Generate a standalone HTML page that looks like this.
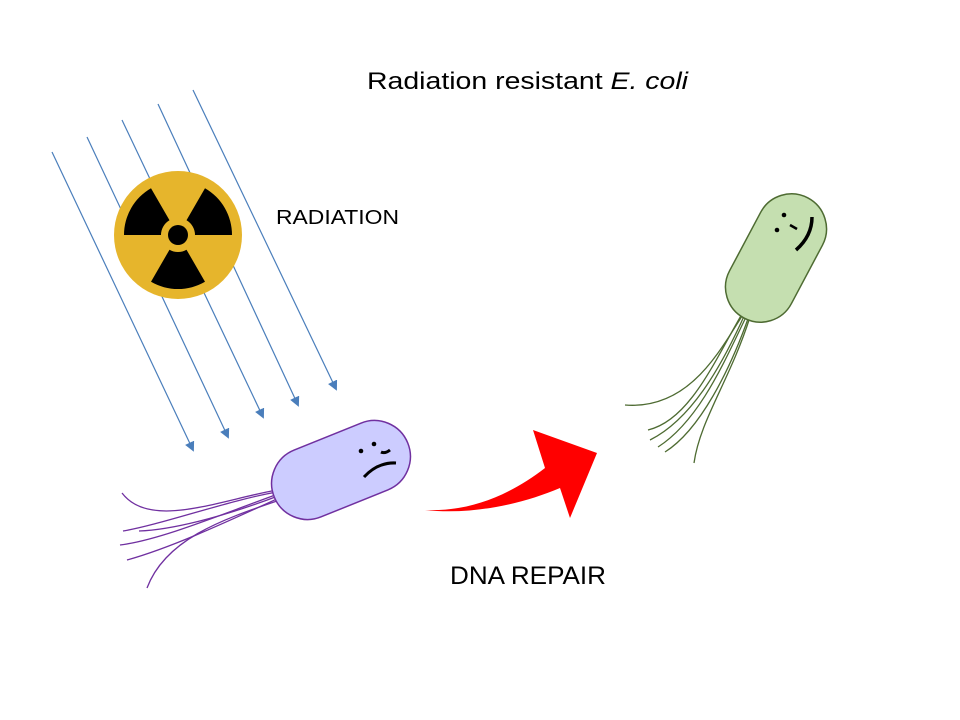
<!DOCTYPE html>
<html><head><style>body{margin:0;background:#fff}svg{display:block}</style></head><body>
<svg width="960" height="720" viewBox="0 0 960 720" xmlns="http://www.w3.org/2000/svg">
<defs><marker id="a" markerWidth="10" markerHeight="10" refX="8" refY="5" orient="auto" markerUnits="userSpaceOnUse"><path d="M0,0 L10,5 L0,10 Z" fill="#4a7ebb"/></marker></defs>
<text x="367" y="89" font-family="Liberation Sans, sans-serif" font-size="24" fill="#000" textLength="321" lengthAdjust="spacingAndGlyphs">Radiation resistant <tspan font-style="italic">E. coli</tspan></text>
<text x="276" y="224" font-family="Liberation Sans, sans-serif" font-size="20" textLength="123" lengthAdjust="spacingAndGlyphs">RADIATION</text>
<text x="450" y="584" font-family="Liberation Sans, sans-serif" font-size="25" textLength="156" lengthAdjust="spacingAndGlyphs">DNA REPAIR</text>
<g stroke="#4a7ebb" stroke-width="1.2" marker-end="url(#a)">
<line x1="52" y1="152" x2="193" y2="450"/>
<line x1="87" y1="137" x2="228" y2="437"/>
<line x1="122" y1="120" x2="263" y2="417"/>
<line x1="158" y1="104" x2="298" y2="405"/>
<line x1="193" y1="90" x2="336" y2="389"/>
</g>
<circle cx="178" cy="235" r="64" fill="#e6b52c"/>
<g fill="#000" transform="translate(178,235)">
<circle r="10"/>
<path d="M-54,0 A54,54 0 0 1 -27,-46.8 L-8.5,-14.7 A17,17 0 0 0 -17,0Z"/>
<path d="M27,-46.8 A54,54 0 0 1 54,0 L17,0 A17,17 0 0 0 8.5,-14.7Z"/>
<path d="M27,46.8 A54,54 0 0 1 -27,46.8 L-8.5,14.7 A17,17 0 0 0 8.5,14.7Z"/>
</g>
<g fill="none" stroke="#7030a0" stroke-width="1.3">
<path d="M277,490 C220,500 150,530 122,493"/>
<path d="M277,492 C230,500 160,525 123,531"/>
<path d="M278,494 C220,515 160,540 120,545"/>
<path d="M278,496 C220,518 170,530 139,531"/>
<path d="M279,498 C220,525 170,548 127,560"/>
<path d="M280,500 C220,520 165,540 147,588"/>
</g>
<g transform="translate(341,470) rotate(-22)">
<rect x="-72" y="-36" width="144" height="72" rx="36" fill="#ccccff" stroke="#7030a0" stroke-width="1.5"/>
</g>
<circle cx="361" cy="451" r="2.3"/><circle cx="374" cy="444" r="2.3"/>
<path d="M381,452 Q385,454 390,450" stroke="#000" stroke-width="3" fill="none"/>
<path d="M364,477 Q378,462 396,463" stroke="#000" stroke-width="3" fill="none"/>
<g fill="none" stroke="#4e6b32" stroke-width="1.3">
<path d="M744,313 C720,350 690,410 625,405"/>
<path d="M742,314 C715,360 690,420 648,430"/>
<path d="M745,314 C720,370 690,420 650,440"/>
<path d="M747,315 C725,360 700,420 658,447"/>
<path d="M749,316 C730,370 700,430 665,452"/>
<path d="M750,317 C730,380 700,420 694,463"/>
</g>
<g transform="translate(776,258) rotate(-62)">
<rect x="-68" y="-35" width="136" height="70" rx="35" fill="#c5dfb0" stroke="#4e6b32" stroke-width="1.5"/>
</g>
<circle cx="784" cy="215" r="2.3"/><circle cx="777" cy="230" r="2.3"/>
<path d="M790,225 L797,229" stroke="#000" stroke-width="2.5"/>
<path d="M812,217 Q812,236 796,250" stroke="#000" stroke-width="3.5" fill="none"/>
<path d="M425,510 C470,512 510,495 545,468 L533,430 L597,453 L570,518 L560,488 C520,505 470,515 425,510Z" fill="#ff0000"/>
</svg>
</body></html>
